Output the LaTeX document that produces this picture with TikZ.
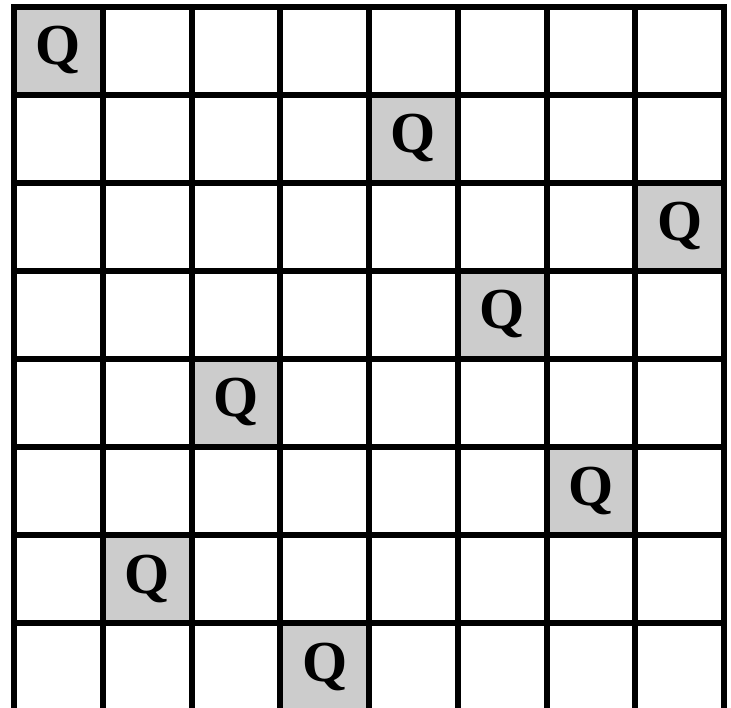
\documentclass[tikz,border=0pt]{standalone}
\usepackage{fontspec}
\setmainfont{Liberation Serif}
\usetikzlibrary{calc}
\begin{document}
\begin{tikzpicture}[x=1pt,y=-1pt,
  cell/.style={draw=black,line width=6pt,rectangle,inner sep=0pt,minimum width=88.75pt,minimum height=88pt},
  qcell/.style={cell,fill=gray!40},
  qmark/.style={anchor=base,inner sep=0pt,font=\fontsize{58}{58}\selectfont\bfseries}]
\useasboundingbox (0,0) rectangle (731,708);
\fill[white] (0,0) rectangle (731,708);
\def\qpos{0,4,7,5,2,6,1,3}
\foreach \r in {0,...,7}{
  \foreach \c in {0,...,7}{
    \node[cell] (c-\r-\c) at ({14+88.75*(\c+0.5)},{7+88*(\r+0.5)}) {};
  }
}
\foreach \c [count=\rr from 0] in \qpos{
  \node[qcell] (q-\rr) at ({14+88.75*(\c+0.5)},{7+88*(\rr+0.5)}) {};
  \node[qmark] (qt-\rr) at ($(q-\rr.center)+(0,14)$) {Q};
}
\end{tikzpicture}
\end{document}
